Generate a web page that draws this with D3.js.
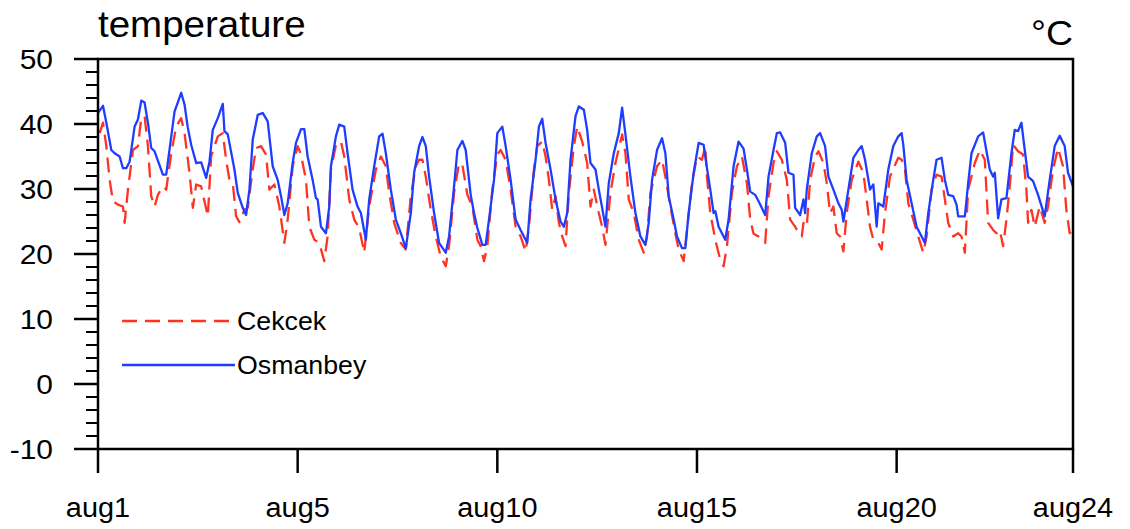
<!DOCTYPE html>
<html>
<head>
<meta charset="utf-8">
<script src="https://cdn.jsdelivr.net/npm/d3@7"></script>
<style>
body { margin: 0; background: #fff; }
text { font-family: "Liberation Sans", Arial, Helvetica, sans-serif; fill: #000; }
</style>
</head>
<body>
<svg id="chart" width="1130" height="529"></svg>
<script>
// hours since aug1 00:00 and temperature (degC)
var osmanbeyHours = [0,3,5,8,10,13,15,17,19,22, 24,26,28,30,32,34,39,41,46,50,
    52,54,56,59,62,65,67,69,72,75, 76,78,82,84,87,89,91,93,96,99,
    102,105,108,110,112,114,117,119,122,124, 126,129,131,132,134,137,139,140,143,145,
    148,150,153,156,158,161,163,166,169,171, 173,176,179,182,185,188,190,193,195,197,
    199,202,205,209,211,214,216,219,221,224, 226,228,231,233,235,238,240,243,245,248,
    251,254,258,260,263,265,267,269,272,275, 278,280,282,284,287,289,292,294,296,299,
    301,303,305,307,310,313,315,317,320,323, 326,329,331,333,336,339,341,343,346,348,
    351,353,355,358,361,364,366,368,370,371, 373,377,379,382,385,388,390,392,395,398,
    401,403,406,408,410,413,415,418,419,422, 424,425,426,429,432,434,437,439,442,445,
    447,448,451,454,457,459,461,464,466,468, 469,472,475,478,481,483,484,486,489,492,
    494,497,499,502,504,507,509,511,514,516, 517,521,523,525,529,532,534,536,538,539,
    541,543,546,549,551,553,555,557,559,562, 565,569,572,575,578,581,583,586];
var osmanbeyTemp = [41.7,42.8,40.2,36.0,35.5,35.0,33.2,33.2,34.2,39.6, 40.7,43.6,43.3,40.2,36.3,35.8,32.2,32.2,41.9,44.8,
    43.0,39.4,36.8,34.0,34.1,31.7,34.2,39.1,40.9,43.1, 38.9,38.4,33.0,29.4,27.1,26.0,29.9,37.6,41.4,41.7,
    40.4,33.5,31.4,28.9,26.0,27.8,34.0,37.1,39.2,39.2, 35.0,31.4,28.6,28.4,24.2,23.2,27.3,33.5,38.1,39.9,
    39.6,35.5,29.9,27.3,26.3,22.2,28.4,33.5,38.1,38.5, 35.5,29.9,25.3,23.2,20.9,26.3,32.5,36.6,38.0,36.6,
    31.9,26.3,21.7,20.2,22.7,30.4,36.0,37.4,36.0,29.1, 26.3,24.0,21.4,21.4,25.3,31.4,38.6,39.6,36.6,31.4,
    25.3,23.7,21.7,28.4,34.5,39.6,40.8,37.1,33.0,28.4, 25.0,24.2,26.3,34.5,41.2,42.7,42.2,39.1,34.0,33.0,
    29.9,27.1,24.2,30.9,35.5,38.6,42.5,38.4,31.9,26.3, 22.7,21.4,24.8,31.4,36.0,37.8,35.5,28.9,25.3,22.7,
    20.9,20.9,26.3,32.5,37.1,36.8,33.2,29.9,26.3,26.6, 24.2,22.2,25.3,33.5,37.3,36.2,33.0,29.6,29.1,27.6,
    26.0,31.9,36.0,38.6,38.7,37.1,32.5,32.2,27.1,26.0, 28.4,26.3,29.9,35.5,38.1,38.6,36.6,31.9,29.9,27.8,
    26.8,25.0,29.9,34.8,36.0,36.6,34.5,29.9,30.7,24.2, 27.8,27.3,33.0,36.6,38.1,38.6,36.8,31.4,27.8,24.2,
    23.2,21.7,26.3,31.4,34.5,34.8,31.4,29.1,28.9,27.6, 25.8,25.8,30.9,35.5,38.1,38.7,35.8,33.0,31.9,32.5,
    25.5,28.4,28.6,35.5,39.1,38.9,40.2,36.0,31.9,31.2, 29.1,25.8,31.4,36.6,38.2,36.6,32.5,30.4];

var cekcekHours = [1,3,5,7,9,12,15,16,18,21, 24,26,28,30,32,34,36,39,41,44,
    47,50,52,55,57,59,62,64,66,68, 72,75,77,79,81,83,85,88,90,93,
    95,98,101,103,106,109,112,114,117,120, 122,125,127,130,133,136,138,140,143,146,
    148,151,154,157,160,163,167,170,173,175, 178,182,185,188,191,193,195,197,200,203,
    206,209,211,214,217,219,222,225,228,230, 232,234,237,240,242,245,248,251,254,257,
    259,262,264,267,269,271,273,275,277,279, 281,283,286,288,291,294,296,298,301,303,
    305,308,311,315,317,319,322,325,328,330, 332,336,339,341,344,347,349,352,354,357,
    360,363,365,366,368,371,374,376,378,381, 384,387,390,392,394,397,401,403,406,408,
    411,414,416,419,421,423,424,426,428,431, 433,436,438,440,442,444,446,448,450,453,
    457,460,462,464,466,469,471,473,476,479, 481,483,485,487,490,493,496,498,501,504,
    507,509,511,514,517,519,521,523,527,530, 533,535,538,540,542,544,546,548,550,553,
    556,558,559,561,563,566,569,571,574,577, 580,582,584,586];
var cekcekTemp = [38.6,40.2,36.6,31.4,28.1,27.6,27.3,24.8,29.9,36.0, 36.6,40.9,41.2,36.6,28.9,27.3,29.1,30.4,29.9,35.5,
    39.6,40.9,38.6,32.5,27.1,30.7,30.4,28.1,25.8,35.0, 38.1,38.6,34.5,31.4,30.9,25.8,24.9,26.8,27.1,33.0,
    36.3,36.6,35.3,29.9,30.7,27.3,21.7,25.3,33.5,36.6, 35.3,31.4,24.2,22.2,21.7,18.9,22.7,33.0,36.8,37.3,
    35.0,28.4,25.3,24.0,20.2,27.3,33.0,35.0,33.5,29.4, 24.8,21.7,20.7,28.9,33.5,34.5,34.5,31.9,26.8,22.7,
    19.6,18.1,21.2,29.4,34.0,33.7,29.1,27.3,22.2,21.2, 18.9,21.2,29.9,35.3,36.0,34.5,29.9,24.2,22.7,20.4,
    24.2,33.0,36.6,37.3,35.0,31.4,26.8,28.9,24.8,22.7, 21.2,29.4,36.6,39.6,37.3,34.0,27.3,29.9,26.3,24.2,
    21.4,29.4,34.0,38.4,35.5,28.4,26.3,22.2,20.2,22.7, 29.4,33.5,34.5,31.9,27.3,23.2,20.7,18.9,23.7,30.9,
    35.0,34.5,36.6,31.9,26.3,22.2,19.1,18.1,21.2,29.4, 33.5,35.0,30.9,25.3,23.1,22.7,21.7,28.9,34.0,35.8,
    34.5,31.4,25.3,24.2,23.2,22.7,24.8,24.2,31.4,35.0, 35.8,34.0,30.9,26.3,27.3,23.2,22.7,20.4,26.3,31.4,
    34.2,32.5,28.4,24.2,22.2,21.7,20.7,26.3,31.9,33.7, 34.8,34.5,33.0,27.8,25.3,22.7,20.2,22.7,29.9,32.2,
    31.9,28.4,24.8,22.7,23.2,22.7,20.2,29.9,34.0,36.0, 34.5,24.8,23.7,23.2,23.7,21.2,25.3,30.4,36.8,35.8,
    35.3,29.9,24.8,26.8,24.2,27.3,24.8,27.3,33.0,36.3, 33.5,26.8,23.2,24.2];

var xTickHours = [0, 120, 240, 360, 480, 586];
var xTickLabels = ["aug1", "aug5", "aug10", "aug15", "aug20", "aug24"];
var yMajorTicks = [-10, 0, 10, 20, 30, 40, 50];
var seriesNames = ["Cekcek", "Osmanbey"];
var seriesColors = ["#ff3322", "#1f3dff"];

var svg = d3.select("#chart");
var stretch = 1.07; // reference glyphs are a little wider than Arial

var xScale = d3.scaleLinear().domain([0, 586]).range([98, 1073]);
var yScale = d3.scaleLinear().domain([-10, 50]).range([449, 59]);

function label(x, y, str, size, anchor) {
    return svg.append("text")
        .attr("transform", "translate(" + x + "," + y + ") scale(" + stretch + ",1)")
        .attr("text-anchor", anchor || "start")
        .style("font-size", size + "px")
        .text(str);
}

svg.append("rect").attr("width", 1130).attr("height", 529).attr("fill", "#fff");

svg.append("clipPath").attr("id", "plotClip")
    .append("rect")
    .attr("x", 98).attr("y", 59)
    .attr("width", 975).attr("height", 390);

var line = d3.line()
    .x(function (d) { return xScale(d[0]); })
    .y(function (d) { return yScale(d[1]); });

var cekcekData = d3.zip(cekcekHours, cekcekTemp);
var osmanbeyData = d3.zip(osmanbeyHours, osmanbeyTemp);

var lines = svg.append("g").attr("clip-path", "url(#plotClip)");

lines.append("path")
    .datum(cekcekData)
    .attr("fill", "none")
    .attr("stroke", seriesColors[0])
    .attr("stroke-width", 2.3)
    .attr("stroke-dasharray", "15 8")
    .attr("stroke-linejoin", "round")
    .attr("d", line);

lines.append("path")
    .datum(osmanbeyData)
    .attr("fill", "none")
    .attr("stroke", seriesColors[1])
    .attr("stroke-width", 2.3)
    .attr("stroke-linejoin", "round")
    .attr("d", line);

// frame
svg.append("rect")
    .attr("x", 98).attr("y", 59)
    .attr("width", 975).attr("height", 390)
    .attr("fill", "none")
    .attr("stroke", "#000")
    .attr("stroke-width", 2.5);

// y ticks, major and minor, pointing outwards
var yMinor = d3.range(-10, 51, 2).filter(function (v) { return v % 10 !== 0; });
svg.selectAll(".yminor")
    .data(yMinor)
    .enter().append("line")
    .attr("x1", 86).attr("x2", 98)
    .attr("y1", function (d) { return yScale(d); })
    .attr("y2", function (d) { return yScale(d); })
    .attr("stroke", "#000").attr("stroke-width", 2);

svg.selectAll(".ymajor")
    .data(yMajorTicks)
    .enter().append("line")
    .attr("x1", 74).attr("x2", 98)
    .attr("y1", function (d) { return yScale(d); })
    .attr("y2", function (d) { return yScale(d); })
    .attr("stroke", "#000").attr("stroke-width", 2.5);

yMajorTicks.forEach(function (v) {
    label(53, yScale(v) + 10, String(v), 28, "end");
});

// x ticks
svg.selectAll(".xmajor")
    .data(xTickHours)
    .enter().append("line")
    .attr("x1", function (d) { return xScale(d); })
    .attr("x2", function (d) { return xScale(d); })
    .attr("y1", 449).attr("y2", 473)
    .attr("stroke", "#000").attr("stroke-width", 2.5);

xTickHours.forEach(function (h, i) {
    label(xScale(h), 517, xTickLabels[i], 27, "middle");
});

// titles
label(98, 37, "temperature", 36, "start");
label(1073, 45, "\u00B0C", 35, "end");

// legend
var legendY = [321, 365];
seriesNames.forEach(function (name, i) {
    svg.append("line")
        .attr("x1", 122).attr("x2", 235)
        .attr("y1", legendY[i]).attr("y2", legendY[i])
        .attr("stroke", seriesColors[i])
        .attr("stroke-width", 2.3)
        .attr("stroke-dasharray", i === 0 ? "15 8" : null);
    label(237, legendY[i] + 9, name, 25, "start");
});
</script>
</body>
</html>
